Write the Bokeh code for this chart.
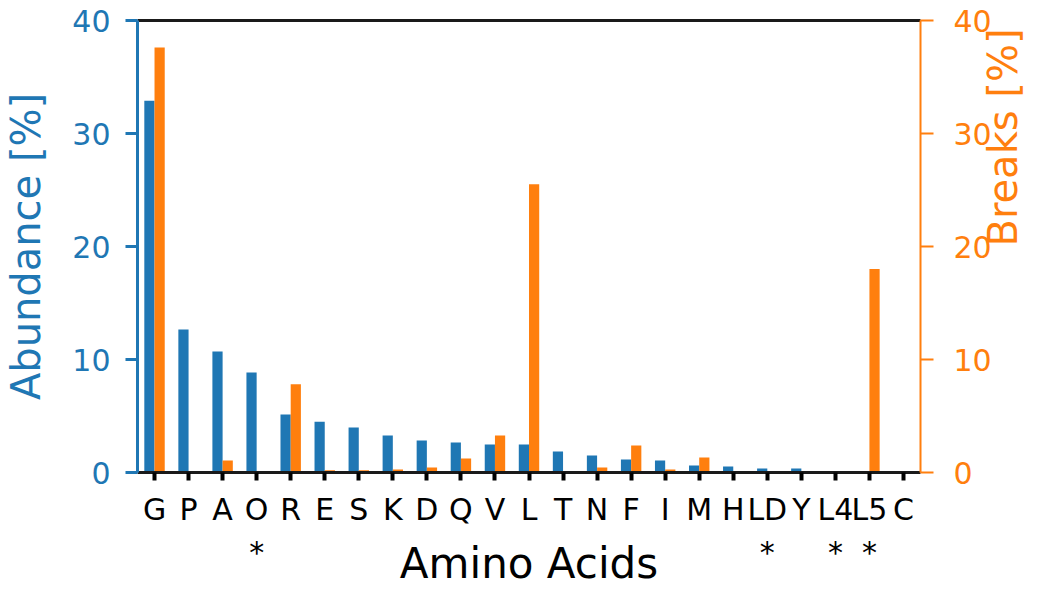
import math
from bokeh.plotting import figure
from bokeh.models import FactorRange, Range1d, LinearAxis, CategoricalAxis, FixedTicker, ColumnDataSource
from bokeh.transform import dodge
from bokeh.embed import file_html
from bokeh.resources import INLINE

amino_acids = ["G", "P", "A", "O\n*", "R", "E", "S", "K", "D", "Q", "V", "L", "T", "N",
               "F", "I", "M", "H", "LD\n*", "Y", "L4\n*", "L5\n*", "C"]
abundance = [32.9, 12.65, 10.7, 8.85, 5.13, 4.5, 3.98, 3.27, 2.83, 2.65, 2.48, 2.48, 1.86,
             1.5, 1.15, 1.06, 0.62, 0.53, 0.35, 0.35, 0.0, 0.0, 0.0]
breaks = [37.6, 0.1, 1.06, 0.1, 7.8, 0.2, 0.2, 0.27, 0.44, 1.24, 3.27, 25.5, 0.0,
          0.44, 2.39, 0.27, 1.33, 0.0, 0.1, 0.0, 0.0, 18.0, 0.0]
y_ticks = [0, 10, 20, 30, 40]

BLUE = "#1f77b4"
ORANGE = "#ff7f0e"
FONT = "DejaVu Sans"

src = ColumnDataSource(dict(aa=amino_acids, abundance=abundance, breaks=breaks))

p = figure(width=1051, height=590, x_range=FactorRange(*amino_acids, range_padding=0),
           y_range=Range1d(0, 40), output_backend="svg", toolbar_location=None,
           min_border_left=137, min_border_right=131, min_border_top=20, min_border_bottom=118)
p.extra_y_ranges = {"breaks": Range1d(0, 40)}

p.vbar(x=dodge("aa", -0.15, range=p.x_range), top="abundance", width=0.3, source=src,
       color=BLUE, line_color=None)
p.vbar(x=dodge("aa", 0.15, range=p.x_range), top="breaks", width=0.3, source=src,
       color=ORANGE, line_color=None, y_range_name="breaks")

p.grid.visible = False
p.outline_line_color = None
p.background_fill_color = "white"

# bottom axis (grab before adding the top spine axis)
xa = p.below[0]
xa.axis_label = "Amino Acids"
xa.axis_line_color = "#1a1a1a"
xa.axis_line_width = 3
xa.major_tick_line_color = "black"
xa.major_tick_line_width = 4
xa.major_tick_out = 8
xa.major_tick_in = 0
xa.major_label_text_color = "black"
xa.major_label_text_font = FONT
xa.major_label_text_font_size = "30px"
xa.major_label_text_line_height = 1.23
xa.major_label_standoff = 11
xa.axis_label_text_color = "black"
xa.axis_label_text_font = FONT
xa.axis_label_text_font_size = "42px"
xa.axis_label_text_font_style = "normal"
xa.axis_label_text_line_height = 1.0
xa.axis_label_standoff = -34

# left axis
ya = p.left[0]
ya.ticker = FixedTicker(ticks=y_ticks)
ya.axis_label = "Abundance [%]"
ya.axis_line_color = BLUE
ya.axis_line_width = 3
ya.major_tick_line_color = BLUE
ya.major_tick_line_width = 3
ya.major_tick_out = 12
ya.major_tick_in = 0
ya.minor_tick_line_color = None
ya.major_label_text_color = BLUE
ya.major_label_text_font = FONT
ya.major_label_text_font_size = "30px"
ya.axis_label_text_color = BLUE
ya.axis_label_text_font = FONT
ya.axis_label_text_font_size = "40px"
ya.axis_label_text_font_style = "normal"
ya.major_label_standoff = 15
ya.axis_label_standoff = 20

# right axis
ra = LinearAxis(y_range_name="breaks", ticker=FixedTicker(ticks=y_ticks),
                axis_label="Breaks [%]")
ra.axis_line_color = ORANGE
ra.axis_line_width = 2
ra.major_tick_line_color = ORANGE
ra.major_tick_line_width = 2
ra.major_tick_out = 13
ra.major_tick_in = 0
ra.minor_tick_line_color = None
ra.major_label_text_color = ORANGE
ra.major_label_text_font = FONT
ra.major_label_text_font_size = "30px"
ra.axis_label_text_color = ORANGE
ra.axis_label_text_font = FONT
ra.axis_label_text_font_size = "40px"
ra.axis_label_text_font_style = "normal"
ra.axis_label_orientation = math.pi / 2
ra.major_label_standoff = 20
ra.axis_label_standoff = 8
p.add_layout(ra, "right")

# top spine
ta = CategoricalAxis()
ta.axis_line_color = "#1a1a1a"
ta.axis_line_width = 3
ta.major_tick_line_color = None
ta.minor_tick_line_color = None
ta.major_label_text_font_size = "0px"
ta.major_label_text_color = None
ta.major_label_standoff = 0
p.add_layout(ta, "above")

open("out.html", "w").write(file_html(p, INLINE))
